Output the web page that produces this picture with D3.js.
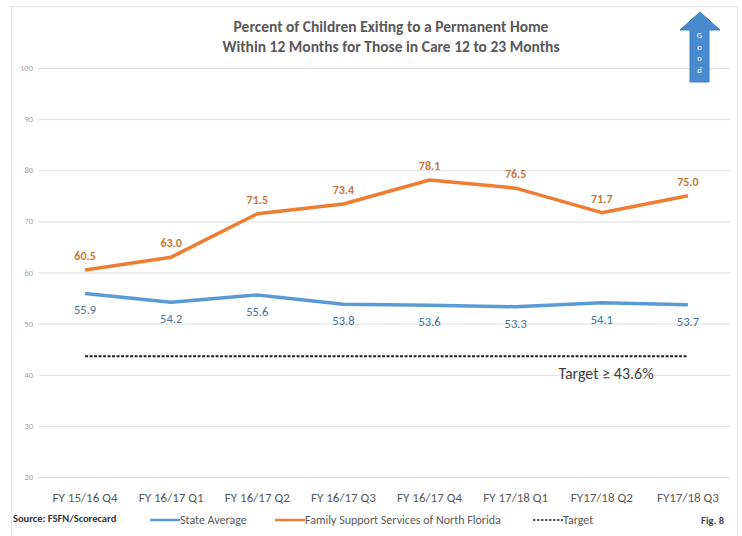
<!DOCTYPE html>
<html>
<head>
<meta charset="utf-8">
<script src="https://cdn.jsdelivr.net/npm/d3@7"></script>
<style>
  body { margin: 0; background: #fff; }
  svg { font-family: Carlito, "Liberation Sans Narrow", "Open Sans", sans-serif; }
</style>
</head>
<body>
<div id="chart"></div>
<script>
// Percent of children exiting to a permanent home - Fig. 8

const quarters = ["FY 15/16 Q4", "FY 16/17 Q1", "FY 16/17 Q2", "FY 16/17 Q3",
    "FY 16/17 Q4", "FY 17/18 Q1", "FY17/18 Q2", "FY17/18 Q3"];
const stateAvg = [55.9, 54.2, 55.6, 53.8, 53.6, 53.3, 54.1, 53.7];
const fssnf = [60.5, 63.0, 71.5, 73.4, 78.1, 76.5, 71.7, 75.0];
const target = 43.6;
const yTicks = [20, 30, 40, 50, 60, 70, 80, 90, 100];
const goodLetters = ["G", "o", "o", "d"];

const W = 742, H = 536;
const blue = "#5B9BD5", orange = "#ED7D31";

const svg = d3.select("#chart").append("svg")
    .attr("width", W)
    .attr("height", H);

// outer frame
svg.append("rect")
    .attr("x", 11.5).attr("y", 6.5)
    .attr("width", 726).attr("height", 540)
    .attr("fill", "none")
    .attr("stroke", "#e3e3e3");

const x = d3.scalePoint()
    .domain(quarters)
    .range([42, 731])
    .padding(0.5);

const y = d3.scaleLinear()
    .domain([20, 100])
    .range([477, 68]);

// gridlines
svg.append("g")
    .selectAll("line")
    .data(yTicks)
    .join("line")
    .attr("x1", 38)
    .attr("x2", 730)
    .attr("y1", d => y(d) + 0.5)
    .attr("y2", d => y(d) + 0.5)
    .attr("stroke", "#dedede");

// y labels
svg.append("g")
    .selectAll("text")
    .data(yTicks)
    .join("text")
    .attr("x", 33)
    .attr("y", d => y(d) + 3)
    .attr("text-anchor", "end")
    .attr("font-size", 8.5)
    .attr("fill", "#a6a6a6")
    .text(d => d);

// x labels
svg.append("g")
    .selectAll("text")
    .data(quarters)
    .join("text")
    .attr("x", d => x(d))
    .attr("y", 502)
    .attr("text-anchor", "middle")
    .attr("font-size", 13)
    .attr("fill", "#595959")
    .text(d => d);

// title
const title = svg.append("text")
    .attr("text-anchor", "middle")
    .attr("font-size", 15.5)
    .attr("font-weight", "bold")
    .attr("fill", "#595959");
title.append("tspan").attr("x", 391).attr("y", 32)
    .text("Percent of Children Exiting to a Permanent Home");
title.append("tspan").attr("x", 391).attr("y", 52)
    .text("Within 12 Months for Those in Care 12 to 23 Months");

// target line
svg.append("line")
    .attr("x1", x(quarters[0]))
    .attr("x2", x(quarters[quarters.length - 1]))
    .attr("y1", y(target))
    .attr("y2", y(target))
    .attr("stroke", "#222")
    .attr("stroke-width", 2)
    .attr("stroke-dasharray", "3,1.5");

svg.append("text")
    .attr("x", 606)
    .attr("y", 379)
    .attr("text-anchor", "middle")
    .attr("font-size", 16)
    .attr("fill", "#404040")
    .text("Target ≥ " + target + "%");

const line = d3.line()
    .x((d, i) => x(quarters[i]))
    .y(d => y(d));

svg.append("path")
    .datum(stateAvg)
    .attr("fill", "none")
    .attr("stroke", blue)
    .attr("stroke-width", 3.5)
    .attr("stroke-linejoin", "round")
    .attr("d", line);

svg.append("path")
    .datum(fssnf)
    .attr("fill", "none")
    .attr("stroke", orange)
    .attr("stroke-width", 3.5)
    .attr("stroke-linejoin", "round")
    .attr("d", line);

// data labels
svg.append("g")
    .selectAll("text")
    .data(stateAvg)
    .join("text")
    .attr("x", (d, i) => x(quarters[i]))
    .attr("y", d => y(d) + 21)
    .attr("text-anchor", "middle")
    .attr("font-size", 12.5)
    .attr("fill", "#44709e")
    .text(d => d.toFixed(1));

svg.append("g")
    .selectAll("text")
    .data(fssnf)
    .join("text")
    .attr("x", (d, i) => x(quarters[i]))
    .attr("y", d => y(d) - 10)
    .attr("text-anchor", "middle")
    .attr("font-size", 12)
    .attr("font-weight", "bold")
    .attr("fill", "#c8763a")
    .text(d => d.toFixed(1));

// "Good" arrow
svg.append("path")
    .attr("d", "M700,12 L720,30 L709,30 L709,82 L690,82 L690,30 L680,30 Z")
    .attr("fill", "#4a8bd0")
    .attr("stroke", "#3f7cc0");

svg.append("g")
    .selectAll("text")
    .data(goodLetters)
    .join("text")
    .attr("x", 699.5)
    .attr("y", (d, i) => 38 + i * 11.5)
    .attr("text-anchor", "middle")
    .attr("font-size", 8.5)
    .attr("fill", "#fff")
    .text(d => d);

// footer legend
svg.append("text")
    .attr("x", 13)
    .attr("y", 522)
    .attr("font-size", 10.5)
    .attr("font-weight", "bold")
    .attr("fill", "#333")
    .text("Source: FSFN/Scorecard");

const legendItems = [
    { name: "State Average", color: blue, x: 150, dash: null },
    { name: "Family Support Services of North Florida", color: orange, x: 275, dash: null },
    { name: "Target", color: "#222", x: 533, dash: "2.5,1.5" }
];

const legend = svg.append("g");
legendItems.forEach(d => {
    legend.append("line")
        .attr("x1", d.x).attr("x2", d.x + 30)
        .attr("y1", 520).attr("y2", 520)
        .attr("stroke", d.color)
        .attr("stroke-width", d.dash ? 1.5 : 2.5)
        .attr("stroke-dasharray", d.dash);
    legend.append("text")
        .attr("x", d.x + 30)
        .attr("y", 524)
        .attr("font-size", 12)
        .attr("fill", "#595959")
        .text(d.name);
});

svg.append("text")
    .attr("x", 724)
    .attr("y", 524)
    .attr("text-anchor", "end")
    .attr("font-size", 10.5)
    .attr("font-weight", "bold")
    .attr("fill", "#404040")
    .text("Fig. 8");
</script>
</body>
</html>
